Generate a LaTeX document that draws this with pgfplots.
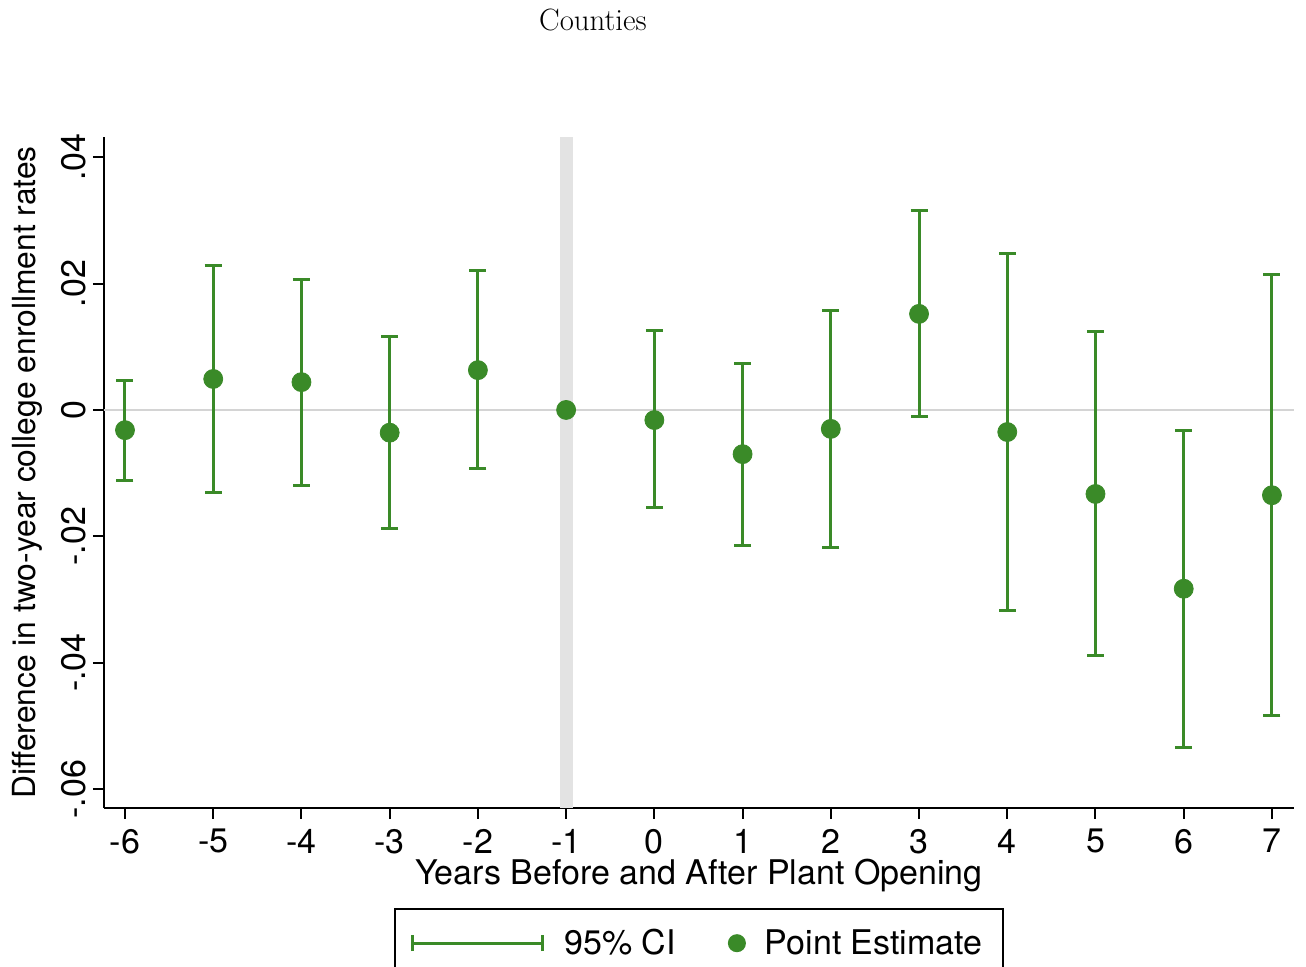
\documentclass[border=0pt]{standalone}
\usepackage{fontspec}
\setsansfont{TeX Gyre Heros}
\usepackage{pgfplots}
\usepackage{pgfplotstable}
\pgfplotsset{compat=1.18}
\definecolor{stgreen}{RGB}{58,138,40}
\definecolor{bargray}{RGB}{227,227,227}
\definecolor{zerogray}{RGB}{212,212,212}
\pgfplotstableread{
x est lo hi
-6 -0.0032 -0.0111 0.0047
-5 0.0049 -0.0130 0.0228
-4 0.0044 -0.0120 0.0207
-3 -0.0036 -0.0188 0.0116
-2 0.0063 -0.0093 0.0220
0 -0.0016 -0.0155 0.0125
1 -0.0070 -0.0214 0.0074
2 -0.0030 -0.0217 0.0158
3 0.0152 -0.0011 0.0315
4 -0.0035 -0.0318 0.0247
5 -0.0133 -0.0388 0.0124
6 -0.0283 -0.0535 -0.0032
7 -0.0135 -0.0483 0.0215
}\citable
\pgfplotstableread{
x est
-6 -0.0032
-5 0.0049
-4 0.0044
-3 -0.0036
-2 0.0063
-1 0.0000
0 -0.0016
1 -0.0070
2 -0.0030
3 0.0152
4 -0.0035
5 -0.0133
6 -0.0283
7 -0.0135
}\pttable
\begin{document}
\begin{tikzpicture}
\useasboundingbox (-52pt,-79.5pt) rectangle (601pt,404pt);
\begin{axis}[
  at={(0,0)}, anchor=south west,
  scale only axis, width=595pt, height=335.5pt,
  clip=false,
  font=\sffamily\fontsize{17}{20}\selectfont,
  xmin=-6.238, xmax=7.25,
  ymin=-0.063, ymax=0.0432,
  scaled y ticks=false, scaled x ticks=false,
  axis x line*=bottom, axis y line*=left,
  axis line style={black, line width=1pt},
  tick align=outside, major tick length=5.5pt,
  tick style={black, line width=1pt},
  xtick={-6,-5,-4,-3,-2,-1,0,1,2,3,4,5,6,7},
  xticklabels={-6,-5,-4,-3,-2,-1,0,1,2,3,4,5,6,7},
  ytick={-0.06,-0.04,-0.02,0,0.02,0.04},
  yticklabels={-.06,-.04,-.02,0,.02,.04},
  yticklabel style={rotate=90, anchor=south, font=\sffamily\fontsize{17}{20}\selectfont},
  xticklabel style={yshift=-1.5pt, font=\sffamily\fontsize{17}{20}\selectfont},
  xlabel={Years Before and After Plant Opening},
  ylabel={Difference in two-year college enrollment rates},
  xlabel style={at={(axis description cs:0.5,0)}, anchor=center, yshift=-34pt, font=\sffamily\fontsize{17}{20}\selectfont},
  ylabel style={at={(axis description cs:0,0.5)}, anchor=center, yshift=38.5pt, font=\sffamily\fontsize{15.9}{19}\selectfont},
  legend columns=2,
  legend style={at={(axis description cs:0.5,0)}, anchor=north, yshift=-50pt,
    draw=black, line width=1pt, inner xsep=8pt, inner ysep=8pt,
    font=\sffamily\fontsize{17}{20}\selectfont,
    /tikz/every odd column/.append style={column sep=8pt},
    /tikz/every even column/.append style={column sep=24.5pt}},
]
\addplot[forget plot, draw=bargray, line width=6.5pt] coordinates {(-1,-0.063) (-1,0.0432)};
\addplot[forget plot, draw=zerogray, line width=1pt] coordinates {(-6.238,0) (7.25,0)};
\addplot[only marks, mark=none,
  error bars/.cd, y dir=both, y explicit,
  error bar style={stgreen, line width=1.5pt},
  error mark options={stgreen, rotate=90, mark size=4.25pt, line width=1.5pt},
  /pgfplots/legend image code/.code={
    \draw[stgreen, line width=1.5pt] (0pt,0pt) -- (65pt,0pt);
    \draw[stgreen, line width=1.5pt] (0pt,-4pt) -- (0pt,4pt);
    \draw[stgreen, line width=1.5pt] (65pt,-4pt) -- (65pt,4pt);
  }]
  table[x=x, y=est, y error plus expr=\thisrow{hi}-\thisrow{est}, y error minus expr=\thisrow{est}-\thisrow{lo}] {\citable};
\addlegendentry{95\% CI}
\addplot[only marks, mark=*, mark size=4.75pt, color=stgreen, mark options={fill=stgreen, draw=stgreen},
  legend image code/.code={
    \draw[stgreen, fill=stgreen] plot[mark=*, mark size=4pt, mark options={fill=stgreen, draw=stgreen}] coordinates {(0.3cm,0cm)};
  }]
  table[x=x, y=est] {\pttable};
\addlegendentry{Point Estimate}
\node[font=\rmfamily\fontsize{15.4}{18}\selectfont, anchor=center] at (rel axis cs:0.4109,1.1744) {Counties};
\end{axis}
\end{tikzpicture}
\end{document}
